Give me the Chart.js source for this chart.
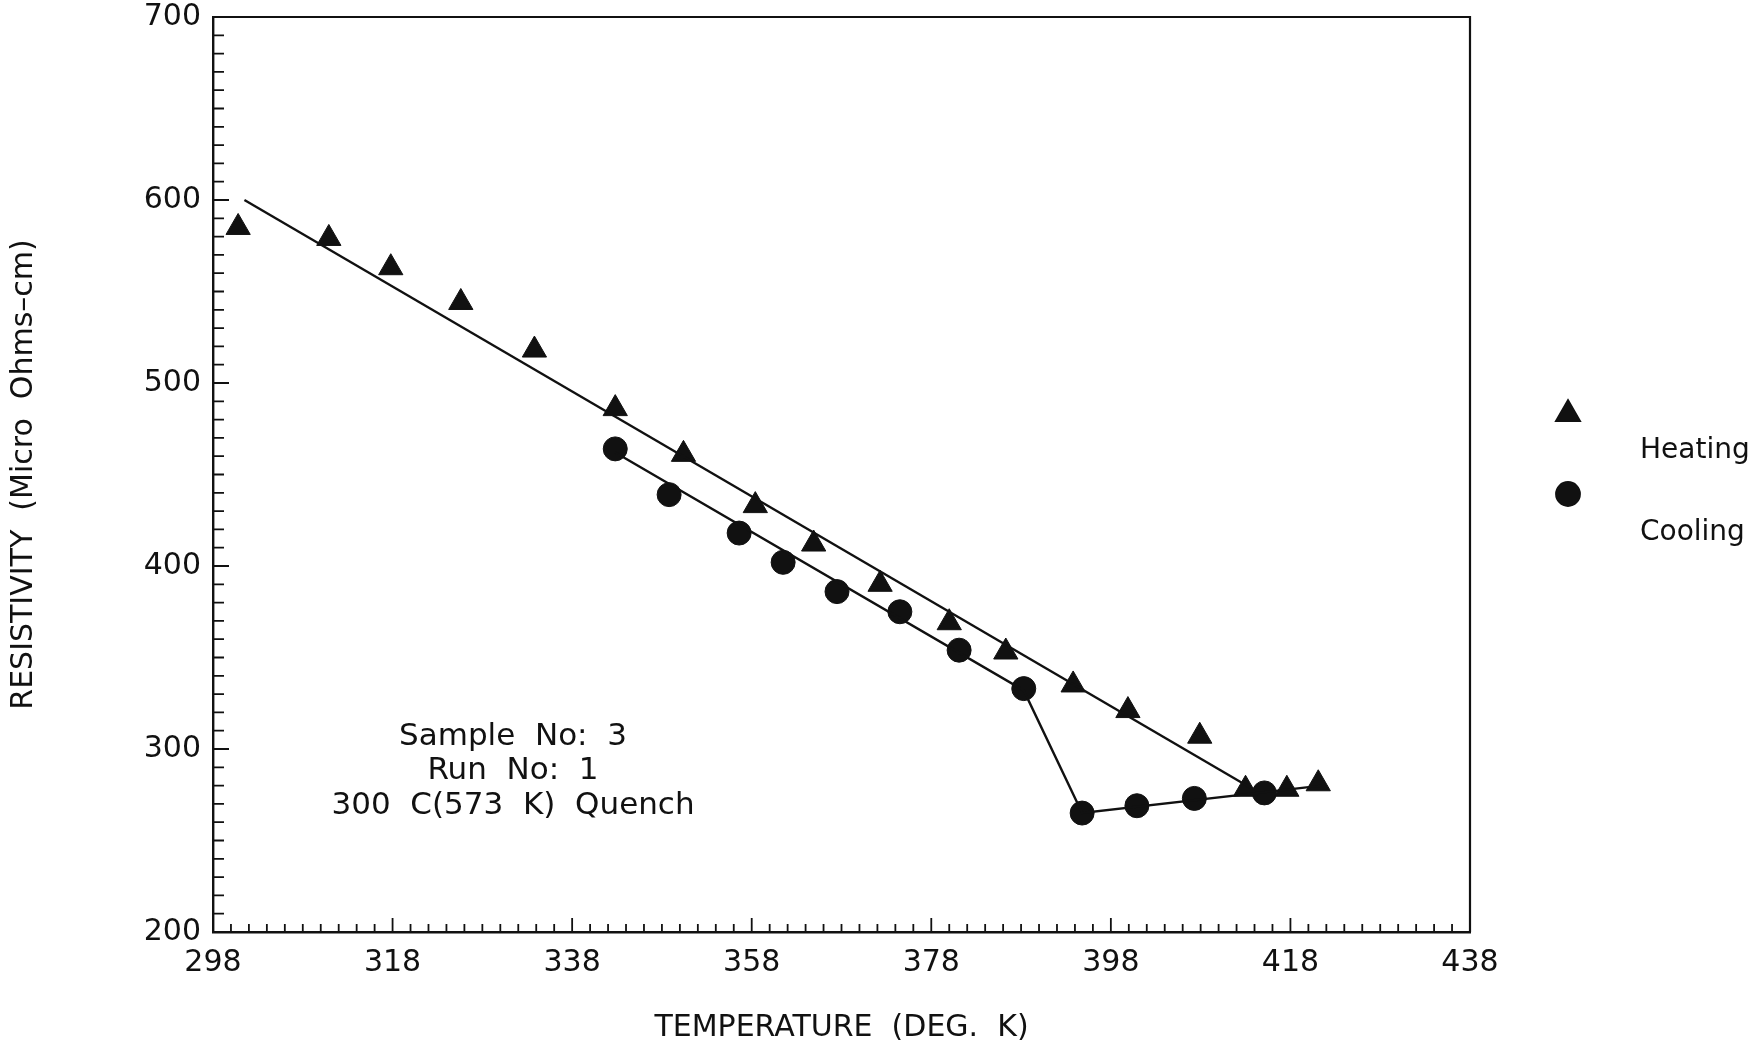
<!DOCTYPE html>
<html>
<head>
<meta charset="utf-8">
<title>Resistivity vs Temperature</title>
<script src="https://cdn.jsdelivr.net/npm/chart.js@4.4.1/dist/chart.umd.min.js"></script>
<style>
  html, body { margin: 0; padding: 0; background: #fff; }
  #wrap { width: 1760px; height: 1048px; }
</style>
</head>
<body>
<div id="wrap"><canvas id="resChart" width="1760" height="1048"></canvas></div>
<script>
// Heating run (triangles)
const heatTemp = [300.8, 310.9, 317.8, 325.6, 333.8, 342.8, 350.4, 358.4, 364.9, 372.3, 380.0, 386.3, 393.8, 399.9, 407.9, 413.0, 417.6, 421.1];
const heatRes  = [585, 579, 563, 544, 518, 486, 461, 433, 412, 390, 369, 353, 335, 321, 307, 278, 278, 281];

// Cooling run (circles)
const coolTemp = [342.8, 348.8, 356.6, 361.5, 367.5, 374.5, 381.1, 388.3, 394.8, 400.9, 407.3, 415.1];
const coolRes  = [464, 439, 418, 402, 386, 375, 354, 333, 265, 269, 273, 276];

// drawn fit lines
const heatFitTemp = [301.5, 413.5];
const heatFitRes  = [600, 279];
const coolFitTemp = [342.8, 388.3, 394.8, 421.5];
const coolFitRes  = [462, 332, 265, 280];

// axis ticks
const xMin = 298, xMax = 438, xStep = 2, xLabelEvery = 20;
const yMin = 200, yMax = 700, yStep = 10, yLabelEvery = 100;

const seriesNames = ["Heating", "Cooling"];
const noteLines = ["Sample  No:  3", "Run  No:  1", "300  C(573  K)  Quench"];

const FONT = "'DejaVu Sans', 'Liberation Sans', sans-serif";
const INK = "#111";

function toPoints(xs, ys) {
  return xs.map((x, i) => ({ x: x, y: ys[i] }));
}

// inward tick marks + top/right frame + note + legend
const frameTicks = {
  id: "frameTicks",
  afterDraw(chart) {
    const ctx = chart.ctx;
    const a = chart.chartArea;
    const xs = chart.scales.x, ys = chart.scales.y;
    ctx.save();
    ctx.strokeStyle = INK;
    ctx.lineWidth = 2.2;
    ctx.beginPath();
    ctx.moveTo(a.left, a.top);
    ctx.lineTo(a.right, a.top);
    ctx.lineTo(a.right, a.bottom);
    ctx.stroke();

    ctx.lineWidth = 1.8;
    ctx.beginPath();
    xs.ticks.forEach(t => {
      const px = xs.getPixelForValue(t.value);
      const major = (t.value - xMin) % xLabelEvery === 0;
      ctx.moveTo(px, a.bottom);
      ctx.lineTo(px, a.bottom - (major ? 14 : 8));
    });
    ys.ticks.forEach(t => {
      const py = ys.getPixelForValue(t.value);
      const major = (t.value - yMin) % yLabelEvery === 0;
      ctx.moveTo(a.left, py);
      ctx.lineTo(a.left + (major ? 16 : 11), py);
    });
    ctx.stroke();

    // sample note
    ctx.fillStyle = INK;
    ctx.font = "31px " + FONT;
    ctx.textAlign = "center";
    ctx.textBaseline = "middle";
    const noteX = 513, noteY = [737, 771, 806];
    noteLines.forEach((s, i) => ctx.fillText(s, noteX, noteY[i]));

    // legend
    ctx.font = "28px " + FONT;
    const styles = ["triangle", "circle"];
    const radii = [14, 12];
    const markY = [414, 494];
    const textY = [451, 533];
    seriesNames.forEach((name, i) => {
      Chart.helpers.drawPoint(ctx, {
        pointStyle: styles[i], radius: radii[i], borderWidth: 1, rotation: 0
      }, 1568, markY[i]);
      ctx.fill();
      ctx.textAlign = "left";
      ctx.fillText(name, 1640, textY[i]);
    });
    ctx.restore();
  }
};

const ctx = document.getElementById("resChart").getContext("2d");
ctx.fillStyle = INK;
ctx.strokeStyle = INK;

new Chart(ctx, {
  type: "scatter",
  data: {
    datasets: [
      {
        label: "Heating fit",
        data: toPoints(heatFitTemp, heatFitRes),
        showLine: true,
        borderColor: INK,
        borderWidth: 2.4,
        pointRadius: 0,
        fill: false
      },
      {
        label: "Cooling fit",
        data: toPoints(coolFitTemp, coolFitRes),
        showLine: true,
        borderColor: INK,
        borderWidth: 2.4,
        pointRadius: 0,
        tension: 0,
        fill: false
      },
      {
        label: seriesNames[0],
        data: toPoints(heatTemp, heatRes),
        pointStyle: "triangle",
        pointRadius: 14,
        backgroundColor: INK,
        borderColor: INK,
        borderWidth: 1
      },
      {
        label: seriesNames[1],
        data: toPoints(coolTemp, coolRes),
        pointStyle: "circle",
        pointRadius: 12,
        backgroundColor: INK,
        borderColor: INK,
        borderWidth: 1
      }
    ]
  },
  options: {
    responsive: false,
    animation: false,
    layout: { padding: { top: 17, right: 290, left: 0, bottom: 0 } },
    plugins: {
      legend: { display: false },
      tooltip: { enabled: false }
    },
    scales: {
      x: {
        type: "linear",
        min: xMin,
        max: xMax,
        afterFit(scale) {
          scale.height = 116;
          scale.paddingLeft = 0;
          scale.paddingRight = 0;
        },
        ticks: {
          stepSize: xStep,
          autoSkip: false,
          maxRotation: 0,
          padding: 13,
          color: INK,
          font: { family: FONT, size: 30 },
          callback: v => ((v - xMin) % xLabelEvery === 0 ? String(v) : "")
        },
        grid: { display: false, drawTicks: false },
        border: { display: true, color: INK, width: 2.4 },
        title: {
          display: true,
          text: "TEMPERATURE  (DEG.  K)",
          color: INK,
          font: { family: FONT, size: 30 },
          padding: { top: 0, bottom: 2 }
        }
      },
      y: {
        type: "linear",
        min: yMin,
        max: yMax,
        afterFit(scale) {
          scale.width = 213;
          scale.paddingTop = 0;
          scale.paddingBottom = 0;
        },
        ticks: {
          stepSize: yStep,
          autoSkip: false,
          padding: 12,
          color: INK,
          font: { family: FONT, size: 30 },
          callback: v => ((v - yMin) % yLabelEvery === 0 ? String(v) : "")
        },
        grid: { display: false, drawTicks: false },
        border: { display: true, color: INK, width: 2.4 },
        title: {
          display: true,
          text: "RESISTIVITY  (Micro  Ohms\u2013cm)",
          color: INK,
          font: { family: FONT, size: 30 },
          padding: { top: 6, bottom: 0 }
        }
      }
    }
  },
  plugins: [frameTicks]
});
</script>
</body>
</html>
